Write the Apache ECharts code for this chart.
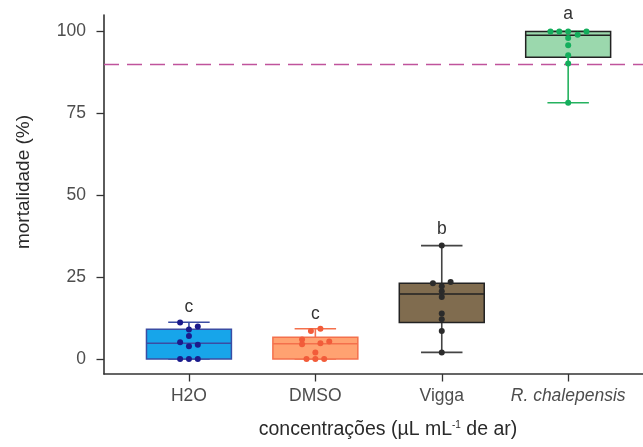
<!DOCTYPE html>
<html>
<head>
<meta charset="utf-8">
<script src="https://cdn.jsdelivr.net/npm/echarts@6/dist/echarts.min.js"></script>
<style>
  html, body { margin: 0; padding: 0; background: #fff; }
  #chart { width: 643px; height: 447px; }
</style>
</head>
<body>
<div id="chart"></div>
<script>
// categories and tick labels
const categories = ['H2O', 'DMSO', 'Vigga', 'R. chalepensis'];
const catPos = [1, 2, 3, 4];
const yTicks = [0, 25, 50, 75, 100];

// box statistics
const boxMin = [0, 0, 2.0, 78.2];
const boxQ1 = [0, 0, 11.1, 92.1];
const boxMed = [4.8, 4.6, 19.8, 98.8];
const boxQ3 = [9.1, 6.6, 23.1, 100];
const boxMax = [11.2, 9.2, 34.6, 100];

// individual replicates (value + horizontal spread)
const h2oPts = [11.1, 9.9, 9.0, 7.0, 5.1, 3.9, 4.3, 0, 0, 0];
const h2oJit = [-0.07, 0.07, 0, 0, -0.07, 0, 0.07, -0.07, 0, 0.07];
const dmsoPts = [8.5, 9.2, 5.9, 4.5, 4.8, 5.3, 2.0, 0, 0, 0];
const dmsoJit = [-0.035, 0.04, -0.105, -0.105, 0.04, 0.11, 0, -0.07, 0, 0.07];
const viggaPts = [34.6, 23.1, 23.5, 22.2, 20.7, 18.9, 13.9, 12.1, 8.5, 2.0];
const viggaJit = [0, -0.07, 0.07, 0, 0, 0, 0, 0, 0, 0];
const rutaPts = [100, 100, 100, 100, 99.0, 98.0, 95.8, 92.7, 90.2, 78.2];
const rutaJit = [-0.14, -0.07, 0, 0.145, 0.075, 0, 0, 0, 0, 0];

// significance letters
const letters = ['c', 'c', 'b', 'a'];
const letterY = [15.9, 13.8, 39.6, 105.3];
const refLine = 90;

// styles
const fills = ['#17A5EA', '#FFA271', '#806C4F', '#9BD8AD'];
const strokes = ['#3A4DA3', '#F4704C', '#222222', '#222222'];
const whiskers = ['#3A4DA3', '#F4704C', '#444444', '#25B25F'];
const dotColors = ['#1B1B8C', '#F25C3A', '#2B2B2B', '#14AE5C'];
const FONT = '"Liberation Sans", Arial, Helvetica, sans-serif';
const BOX_HALF = 0.336;
const CAP_HALF = 0.164;

let chart = echarts.init(document.getElementById('chart'));

let boxData = catPos.map((x, i) => [x, boxMin[i], boxQ1[i], boxMed[i], boxQ3[i], boxMax[i]]);
let pointSets = [
    [h2oPts, h2oJit],
    [dmsoPts, dmsoJit],
    [viggaPts, viggaJit],
    [rutaPts, rutaJit]
];

let scatterSeries = pointSets.map((set, i) => ({
    type: 'scatter',
    name: categories[i],
    symbolSize: 6,
    z: 5,
    itemStyle: { color: dotColors[i], opacity: 1 },
    data: set[0].map((v, k) => [catPos[i] + set[1][k], v])
}));

let option = {
    animation: false,
    grid: { left: 104, right: 0, top: 15, bottom: 73 },
    xAxis: {
        type: 'value',
        min: 0.328,
        max: 4.592,
        splitLine: { show: false },
        axisLine: { show: true, onZero: false, lineStyle: { color: '#333', width: 1.6 } },
        axisTick: { show: true, customValues: catPos, length: 7.5, lineStyle: { color: '#333', width: 1.3 } },
        axisLabel: {
            customValues: catPos,
            margin: 13,
            color: '#4D4D4D',
            fontSize: 17.5,
            fontFamily: FONT,
            formatter: function (v) {
                let i = Math.round(v) - 1;
                return i === 3 ? '{it|' + categories[i] + '}' : categories[i];
            },
            rich: {
                it: { fontStyle: 'italic', color: '#4D4D4D', fontSize: 17.5, fontFamily: FONT }
            }
        }
    },
    yAxis: {
        type: 'value',
        min: -4.6,
        max: 105,
        splitLine: { show: false },
        axisLine: { show: true, onZero: false, lineStyle: { color: '#333', width: 1.6 } },
        axisTick: { show: true, customValues: yTicks, length: 7.5, lineStyle: { color: '#333', width: 1.3 } },
        axisLabel: {
            customValues: yTicks,
            margin: 18,
            color: '#4D4D4D',
            fontSize: 17.5,
            fontFamily: FONT
        }
    },
    graphic: [
        {
            type: 'text',
            x: 388,
            y: 430,
            style: {
                text: '{t|concentrações (µL mL}{s|-1}{t| de ar)}',
                align: 'center',
                verticalAlign: 'middle',
                rich: {
                    t: { fontSize: 19.5, fontFamily: FONT, fill: '#2a2a2a', lineHeight: 22 },
                    s: { fontSize: 10, fontFamily: FONT, fill: '#2a2a2a', lineHeight: 22, padding: [0, 0, 9, 0] }
                }
            }
        },
        {
            type: 'text',
            x: 24,
            y: 182,
            rotation: Math.PI / 2,
            style: {
                text: 'mortalidade (%)',
                align: 'center',
                verticalAlign: 'middle',
                fontSize: 19,
                fontFamily: FONT,
                fill: '#2a2a2a'
            }
        }
    ],
    series: [
        {
            type: 'custom',
            name: 'boxes',
            z: 2,
            data: boxData,
            renderItem: function (params, api) {
                let i = params.dataIndex;
                let x = api.value(0);
                let top = api.coord([x, api.value(5)]);
                let bot = api.coord([x, api.value(1)]);
                let capL = api.coord([x - CAP_HALF, 0])[0];
                let capR = api.coord([x + CAP_HALF, 0])[0];
                let q1 = api.coord([x - BOX_HALF, api.value(2)]);
                let q3 = api.coord([x + BOX_HALF, api.value(4)]);
                let med = api.coord([x, api.value(3)])[1];
                let ws = { stroke: whiskers[i], lineWidth: 1.6 };
                return {
                    type: 'group',
                    children: [
                        { type: 'line', shape: { x1: top[0], y1: top[1], x2: bot[0], y2: bot[1] }, style: ws },
                        { type: 'line', shape: { x1: capL, y1: top[1], x2: capR, y2: top[1] }, style: ws },
                        { type: 'line', shape: { x1: capL, y1: bot[1], x2: capR, y2: bot[1] }, style: ws },
                        {
                            type: 'rect',
                            shape: { x: q1[0], y: q3[1], width: q3[0] - q1[0], height: q1[1] - q3[1] },
                            style: { fill: fills[i], stroke: strokes[i], lineWidth: 1.5 }
                        },
                        {
                            type: 'line',
                            shape: { x1: q1[0], y1: med, x2: q3[0], y2: med },
                            style: { stroke: strokes[i], lineWidth: 1.5 }
                        }
                    ]
                };
            }
        },
        {
            type: 'custom',
            name: 'letters',
            z: 6,
            data: catPos.map((x, i) => [x, letterY[i]]),
            renderItem: function (params, api) {
                let p = api.coord([api.value(0), api.value(1)]);
                return {
                    type: 'text',
                    x: p[0],
                    y: p[1],
                    style: {
                        text: letters[params.dataIndex],
                        align: 'center',
                        verticalAlign: 'middle',
                        fontSize: 17.5,
                        fontFamily: FONT,
                        fill: '#333'
                    }
                };
            }
        },
        {
            type: 'line',
            name: 'ref',
            data: [],
            markLine: {
                silent: true,
                symbol: 'none',
                label: { show: false },
                lineStyle: { color: '#C0539C', width: 1.4, type: [15, 8] },
                data: [{ yAxis: refLine }]
            }
        }
    ].concat(scatterSeries)
};

chart.setOption(option);
</script>
</body>
</html>
